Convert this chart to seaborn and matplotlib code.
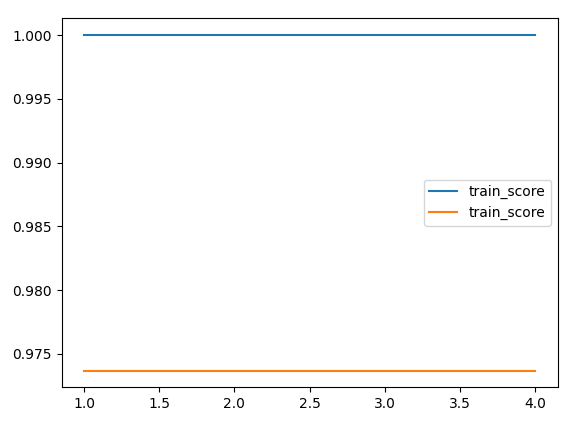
import matplotlib
matplotlib.use("Agg")
import matplotlib.pyplot as plt
import seaborn as sns

# scores per step
steps = [1, 2, 3, 4]
train_score_a = [1.0, 1.0, 1.0, 1.0]
train_score_b = [0.9737, 0.9737, 0.9737, 0.9737]

fig = plt.figure(figsize=(5.77, 4.22), dpi=100)
ax = fig.add_axes([61.5 / 577, (422 - 387.3) / 422, 496 / 577, 369 / 422])

sns.lineplot(x=steps, y=train_score_a, label="train_score", ax=ax, color="#1f77b4")
sns.lineplot(x=steps, y=train_score_b, label="train_score", ax=ax, color="#ff7f0e")
ax.legend(loc="center right")

fig.savefig("out.png", dpi=100)
